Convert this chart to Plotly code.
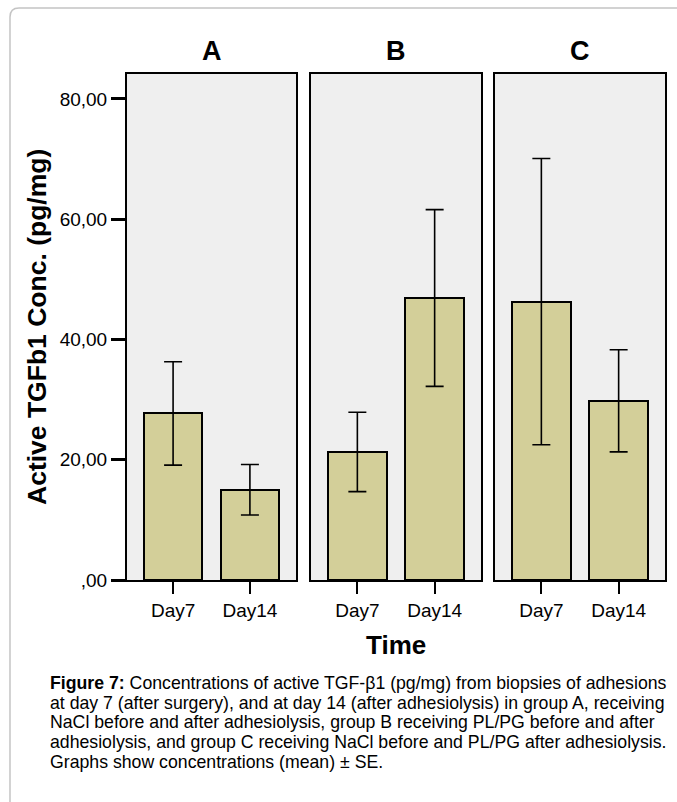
import plotly.graph_objects as go

W, H = 677, 802

groups = ["A", "B", "C"]
times = ["Day7", "Day14"]
means_A = [27.7, 15.0]
means_B = [21.3, 46.9]
means_C = [46.3, 29.8]
se_A = [8.6, 4.2]
se_B = [6.6, 14.7]
se_C = [23.8, 8.5]
y_tickvals = [0, 20, 40, 60, 80]
y_ticktext = [",00", "20,00", "40,00", "60,00", "80,00"]

caption_lines = [
    "<b>Figure 7:</b> Concentrations of active TGF-β1 (pg/mg) from biopsies of adhesions",
    "at day 7 (after surgery), and at day 14 (after adhesiolysis) in group A, receiving",
    "NaCl before and after adhesiolysis, group B receiving PL/PG before and after",
    "adhesiolysis, and group C receiving NaCl before and PL/PG after adhesiolysis.",
    "Graphs show concentrations (mean) ± SE.",
]

means = [means_A, means_B, means_C]
ses = [se_A, se_B, se_C]

def px(x):
    return x / W

def py(y):
    return 1 - y / H

panel_px = [(127, 296), (311, 481), (495, 665)]
top_px, bot_px = 74, 580

BAR = "rgb(211,207,153)"
FONT = "Liberation Sans, Arial, sans-serif"

fig = go.Figure()
for i, g in enumerate(groups):
    sfx = "" if i == 0 else str(i + 1)
    fig.add_trace(go.Bar(
        x=times, y=means[i],
        xaxis="x" + sfx, yaxis="y" + sfx,
        width=0.76,
        marker=dict(color=BAR, line=dict(color="black", width=2)),
        error_y=dict(type="data", array=ses[i], visible=True,
                     color="black", thickness=1.6, width=9),
        showlegend=False, hoverinfo="skip",
    ))

layout = dict(
    width=W, height=H,
    margin=dict(l=0, r=0, t=0, b=0),
    paper_bgcolor="white", plot_bgcolor="#EFEFEF",
    template="none",
    font=dict(family=FONT, color="black"),
    showlegend=False,
    bargap=0,
)
for i, (a, b) in enumerate(panel_px):
    sfx = "" if i == 0 else str(i + 1)
    layout["xaxis" + sfx] = dict(
        domain=[px(a), px(b)], anchor="y" + sfx,
        range=[-0.6, 1.6], type="category",
        showline=True, linecolor="black", linewidth=2, mirror=True,
        ticks="outside", ticklen=12, tickwidth=2, tickcolor="black",
        tickfont=dict(size=19, family=FONT, color="black"),
        showgrid=False, zeroline=False, automargin=False,
        fixedrange=True,
    )
    layout["yaxis" + sfx] = dict(
        domain=[py(bot_px), py(top_px)], anchor="x" + sfx,
        range=[0, 84.15],
        showline=True, linecolor="black", linewidth=2, mirror=True,
        tickvals=y_tickvals, ticktext=y_ticktext,
        ticks="outside" if i == 0 else "", ticklen=14, tickwidth=2.5, tickcolor="black",
        showticklabels=(i == 0),
        tickfont=dict(size=19, family=FONT, color="black"),
        showgrid=False, zeroline=False, automargin=False,
        fixedrange=True,
    )
fig.update_layout(**layout)

ann = []
for i, g in enumerate(groups):
    a, b = panel_px[i]
    ann.append(dict(text="<b>%s</b>" % g, x=px((a + b) / 2), y=py(51),
                    xref="paper", yref="paper", showarrow=False,
                    xanchor="center", yanchor="middle",
                    font=dict(size=27, family=FONT, color="black")))
ann.append(dict(text="<b>Active TGFb1 Conc. (pg/mg)</b>", x=px(37), y=py(327),
                xref="paper", yref="paper", showarrow=False, textangle=-90,
                xanchor="center", yanchor="middle",
                font=dict(size=26.5, family=FONT, color="black")))
ann.append(dict(text="<b>Time</b>", x=px(396), y=py(645),
                xref="paper", yref="paper", showarrow=False,
                xanchor="center", yanchor="middle",
                font=dict(size=26, family=FONT, color="black")))
CAP_FONT = "Liberation Sans, Arial, sans-serif"
for k, line in enumerate(caption_lines):
    ann.append(dict(text=line, x=px(48), y=py(683 + 19.7 * k),
                    xref="paper", yref="paper", showarrow=False,
                    xanchor="left", yanchor="middle",
                    font=dict(size=17.7, family=CAP_FONT, color="black")))
fig.update_layout(annotations=ann)

# outer rounded frame
x0, y0, r = 10, 8, 9
xr, yb = 700, 830
path = ("M %f,%f L %f,%f Q %f,%f %f,%f L %f,%f" % (
    px(x0), py(yb), px(x0), py(y0 + r), px(x0), py(y0), px(x0 + r), py(y0), px(xr), py(y0)))
fig.add_shape(type="path", path=path, xref="paper", yref="paper",
              line=dict(color="#C4C4C4", width=1.5), layer="below")

fig.write_html("out.html", config={"displayModeBar": False},
               post_script="document.body.style.margin='0';document.body.style.overflow='hidden';")
